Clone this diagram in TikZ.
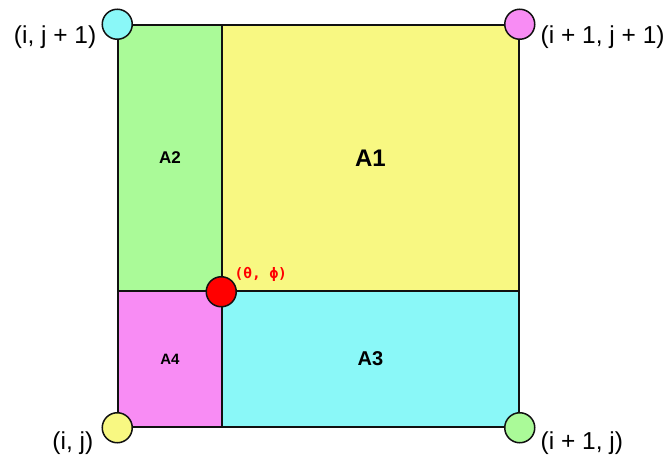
\documentclass[tikz,border=0pt]{standalone}
\usepackage{fontspec}
\setmainfont{Liberation Sans}
\newfontfamily\codefont{DejaVu Sans Mono}
\usetikzlibrary{positioning,calc}
\definecolor{cellyellow}{HTML}{F8F882}
\definecolor{cellgreen}{HTML}{AAFA98}
\definecolor{cellcyan}{HTML}{8AF8F8}
\definecolor{cellpink}{HTML}{F88CF4}
\definecolor{edgegray}{HTML}{111111}
\definecolor{pointred}{HTML}{FF0000}

\begin{document}
\begin{tikzpicture}[
    x=1pt,y=-1pt,
    cell/.style={rectangle,draw=edgegray,line width=1.5pt,inner sep=0pt,
                 font=\bfseries},
    corner/.style={circle,draw=edgegray,line width=1.5pt,minimum size=30pt,
                   inner sep=0pt},
    cornerlabel/.style={inner sep=0pt,font=\fontsize{24.5}{29}\selectfont},
    coordlabel/.style={inner sep=0pt,text=pointred,
                       font=\codefont\bfseries\fontsize{14.5}{17}\selectfont}
  ]
    \useasboundingbox (0,0) rectangle (670,457);

    % the four sub-areas of the cell
    \node[cell,fill=cellyellow,minimum width=297pt,minimum height=266pt]
      (a1) at (370.5,158) {\fontsize{24}{28}\selectfont A1};
    \node[cell,fill=cellgreen,minimum width=104pt,minimum height=266pt]
      (a2) at (170,158) {\fontsize{17}{20}\selectfont A2};
    \node[cell,fill=cellcyan,minimum width=297pt,minimum height=136pt]
      (a3) at (370.5,359) {\fontsize{20}{24}\selectfont A3};
    \node[cell,fill=cellpink,minimum width=104pt,minimum height=136pt]
      (a4) at (170,359) {\fontsize{15}{18}\selectfont A4};

    % grid corners
    \node[corner,fill=cellcyan] (tl) at (a2.north west) {};
    \node[corner,fill=cellpink] (tr) at (a1.north east) {};
    \node[corner,fill=cellyellow] (bl) at (a4.south west) {};
    \node[corner,fill=cellgreen] (br) at (a3.south east) {};

    \node[cornerlabel,left=5pt of tl,yshift=-13pt] (tltext) {(i, j + 1)};
    \node[cornerlabel,right=5pt of tr,yshift=-13pt] (trtext) {(i + 1, j + 1)};
    \node[cornerlabel,left=8pt of bl,yshift=-15pt] (bltext) {(i, j)};
    \node[cornerlabel,right=5pt of br,yshift=-15pt] (brtext) {(i + 1, j)};

    % sample point
    \node[corner,fill=pointred] (pt) at (a1.south west) {};
    \node[coordlabel,above right=-1pt and 2pt of pt] (pttext) {(θ, ϕ)};
  \end{tikzpicture}
\end{document}
